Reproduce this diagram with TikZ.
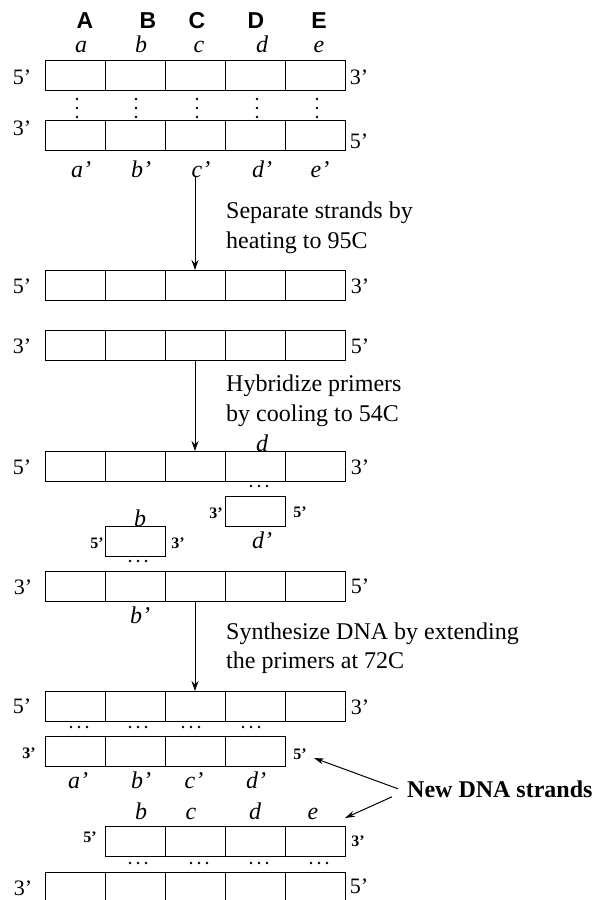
\documentclass[tikz,border=0pt]{standalone}
\usepackage{fontspec}
\setmainfont{Liberation Serif}
\newfontfamily\hvfont{Liberation Sans}
\usetikzlibrary{arrows.meta}
\newcommand\pcrhdots[2]{\fill ({#1-8},#2) circle[radius=1.3pt] (#1,#2) circle[radius=1.3pt] ({#1+8},#2) circle[radius=1.3pt];}
\newcommand\pcrvdots[2]{\fill (#1,{#2-9}) circle[radius=1.4pt] (#1,#2) circle[radius=1.4pt] (#1,{#2+9}) circle[radius=1.4pt];}
\begin{document}
\begin{tikzpicture}[x=1pt,y=-1pt,
  cell/.style={draw, line width=1pt, minimum width=60pt, minimum height=30pt, inner sep=0pt, outer sep=0pt},
  endlbl/.style={font=\fontsize{22}{24}\selectfont, inner sep=0pt, anchor=base},
  bendlbl/.style={font=\fontsize{16}{18}\selectfont\bfseries, inner sep=0pt, anchor=base},
  basel/.style={font=\fontsize{24}{26}\selectfont\itshape, inner sep=0pt, anchor=base},
  colhead/.style={font=\fontsize{23}{26}\selectfont\hvfont\bfseries, inner sep=0pt, anchor=base},
  note/.style={font=\fontsize{24}{26}\selectfont, inner sep=0pt, anchor=base west},
  arr/.style={-{Stealth[length=10pt,width=7pt]}, line width=1pt}
]
\useasboundingbox (0,0) rectangle (599,900);
\clip (0,0) rectangle (599,900);

% ---------- strands ----------
\foreach \i in {1,...,5} \node[cell] (ra-\i) at ({15+60*\i},75) {};
\foreach \i in {1,...,5} \node[cell] (rb-\i) at ({15+60*\i},135) {};
\foreach \i in {1,...,5} \node[cell] (rc-\i) at ({15+60*\i},285) {};
\foreach \i in {1,...,5} \node[cell] (rd-\i) at ({15+60*\i},345) {};
\foreach \i in {1,...,5} \node[cell] (re-\i) at ({15+60*\i},466) {};
\node[cell] (pd) at (255,511) {};
\node[cell] (pb) at (135,541) {};
\foreach \i in {1,...,5} \node[cell] (rf-\i) at ({15+60*\i},586) {};
\foreach \i in {1,...,5} \node[cell] (rg-\i) at ({15+60*\i},706) {};
\foreach \i in {1,...,4} \node[cell] (rh-\i) at ({15+60*\i},751) {};
\foreach \i in {2,...,5} \node[cell] (ri-\i) at ({15+60*\i},841) {};
\foreach \i in {1,...,5} \node[cell] (rj-\i) at ({15+60*\i},887) {};

% ---------- column heads ----------
\node[colhead] (hA) at (85,28) {A};
\node[colhead] (hB) at (148,28) {B};
\node[colhead] (hC) at (197,28) {C};
\node[colhead] (hD) at (256,28) {D};
\node[colhead] (hE) at (319,28) {E};
\node[basel] (ta) at (81,52.5) {a};
\node[basel] (tb) at (141,52.5) {b};
\node[basel] (tc) at (199,52.5) {c};
\node[basel] (td) at (262,52.5) {d};
\node[basel] (te) at (319,52.5) {e};
\node[basel] (pa1) at (81,177) {a’};
\node[basel] (pb1) at (141,177) {b’};
\node[basel] (pc1) at (201,177) {c’};
\node[basel] (pd1) at (262,177) {d’};
\node[basel] (pe1) at (320,177) {e’};

% ---------- end labels ----------
\node[endlbl] (l1) at (22,84) {5’};
\node[endlbl] (r1) at (359,84) {3’};
\node[endlbl] (l2) at (22,135) {3’};
\node[endlbl] (r2) at (359,148) {5’};
\node[endlbl] (l3) at (22,293) {5’};
\node[endlbl] (r3) at (360,293) {3’};
\node[endlbl] (l4) at (22,353) {3’};
\node[endlbl] (r4) at (360,353) {5’};
\node[endlbl] (l5) at (22,474) {5’};
\node[endlbl] (r5) at (360,474) {3’};
\node[endlbl] (l6) at (23,594) {3’};
\node[endlbl] (r6) at (360,593) {5’};
\node[endlbl] (l7) at (22,713) {5’};
\node[endlbl] (r7) at (360,714) {3’};
\node[endlbl] (l10) at (23,895) {3’};
\node[endlbl] (r10) at (359,893) {5’};

% primer / new strand labels
\node[bendlbl] (pdl) at (216,518) {3’};
\node[bendlbl] (pdr) at (300,517) {5’};
\node[basel] (pdtop) at (262,451) {d};
\node[basel] (pdbot) at (262,548) {d’};
\node[bendlbl] (pbl) at (97,548) {5’};
\node[bendlbl] (pbr) at (178,548) {3’};
\node[basel] (pbtop) at (140,526) {b};
\node[basel] (pbbot) at (140,623) {b’};

\node[bendlbl] (l8) at (29,758) {3’};
\node[bendlbl] (r8) at (300,759) {5’};
\node[basel] (qa) at (78,788) {a’};
\node[basel] (qb) at (141,788) {b’};
\node[basel] (qc) at (194,788) {c’};
\node[basel] (qd) at (256,788) {d’};
\node[bendlbl] (l9) at (90,842) {5’};
\node[bendlbl] (r9) at (358,846) {3’};
\node[basel] (sb) at (141,819) {b};
\node[basel] (sc) at (191,819) {c};
\node[basel] (sd) at (255,819) {d};
\node[basel] (se) at (313,819) {e};

% ---------- dots ----------
\foreach \x in {77,136,197,257,317} {\pcrvdots{\x}{108}}
\pcrhdots{259}{486}
\pcrhdots{138}{561}
\foreach \x in {79,138,191,251} {\pcrhdots{\x}{727}}
\foreach \x in {138,199,259,319} {\pcrhdots{\x}{863}}

% ---------- step texts ----------
\node[note] (n1a) at (226,218) {Separate strands by};
\node[note] (n1b) at (226,248) {heating to 95C};
\node[note] (n2a) at (226,391) {Hybridize primers};
\node[note] (n2b) at (226,421) {by cooling to 54C};
\node[note] (n3a) at (226,639) {Synthesize DNA by extending};
\node[note] (n3b) at (226,668) {the primers at 72C};
\node[note, font=\fontsize{24}{26}\selectfont\bfseries] (nds) at (407,797) {New DNA strands};

% ---------- arrows ----------
\draw[arr] (pc1.south -| rc-3.north) -- (rc-3.north);
\draw[arr] (rd-3.south) -- (re-3.north);
\draw[arr] (rf-3.south) -- (rg-3.north);
\coordinate (t1) at (314,758);
\coordinate (t2) at (345,818);
\draw[-{Stealth[length=10pt,width=6pt]}, line width=1pt] ([xshift=-9pt]nds.west) -- (t1);
\draw[-{Stealth[length=10pt,width=6pt]}, line width=1pt] ([xshift=-15pt,yshift=-8pt]nds.west) -- (t2);
\end{tikzpicture}
\end{document}
